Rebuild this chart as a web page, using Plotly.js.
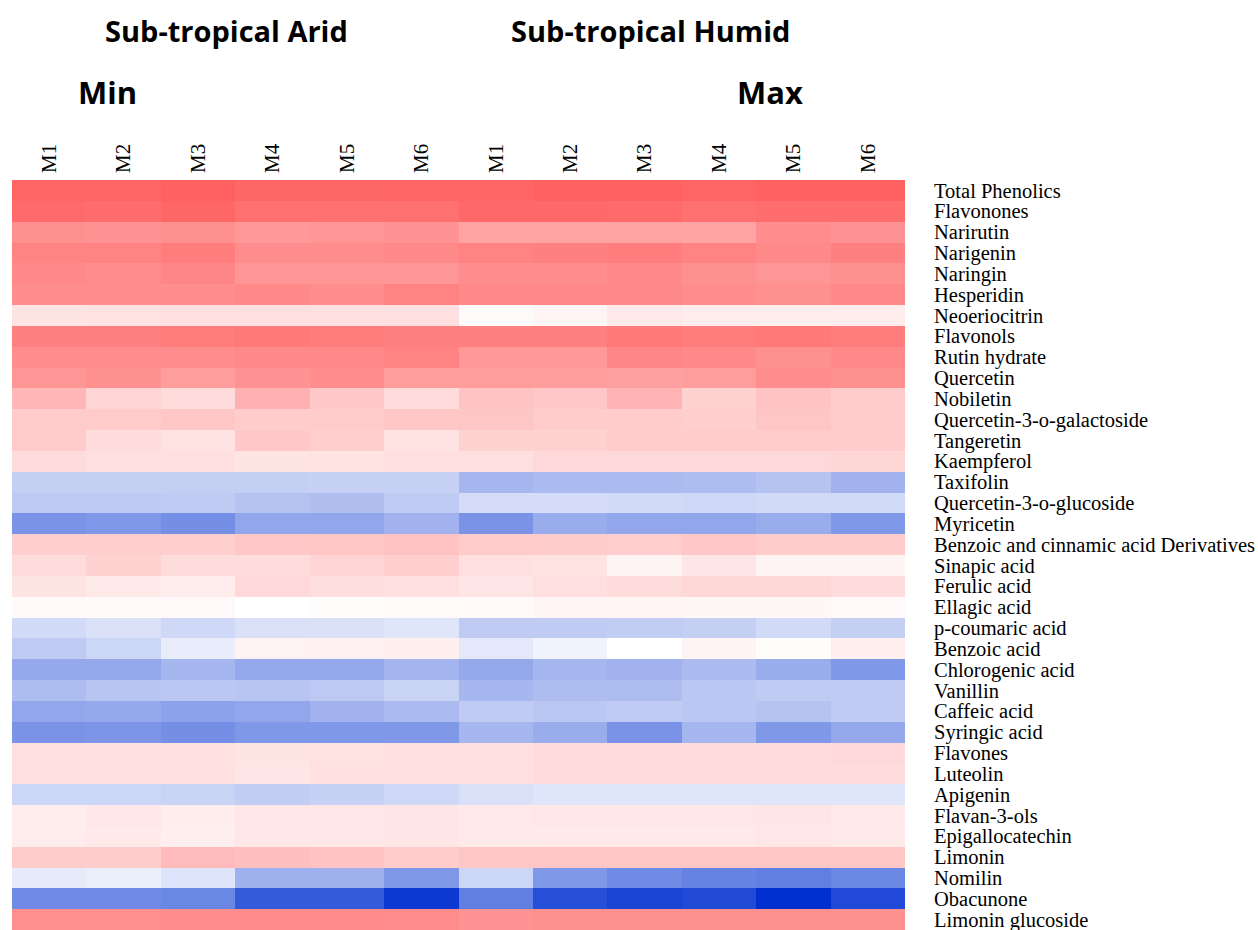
<!DOCTYPE html>
<html>
<head>
<meta charset="utf-8">
<script src="https://cdn.plot.ly/plotly-3.0.1.min.js"></script>
<style>html,body{margin:0;padding:0;background:#fff;}#chart{width:1258px;height:930px;}</style>
</head>
<body>
<div id="chart"></div>
<script>
const compounds = ["Total Phenolics","Flavonones","Narirutin","Narigenin","Naringin","Hesperidin","Neoeriocitrin","Flavonols","Rutin hydrate","Quercetin","Nobiletin","Quercetin-3-o-galactoside","Tangeretin","Kaempferol","Taxifolin","Quercetin-3-o-glucoside","Myricetin","Benzoic and cinnamic acid Derivatives","Sinapic acid","Ferulic acid","Ellagic acid","p-coumaric acid","Benzoic acid","Chlorogenic acid","Vanillin","Caffeic acid","Syringic acid","Flavones","Luteolin","Apigenin","Flavan-3-ols","Epigallocatechin","Limonin","Nomilin","Obacunone","Limonin glucoside"];
const samples = ["M1","M2","M3","M4","M5","M6","M1","M2","M3","M4","M5","M6"];
const groupTitles = ["Sub-tropical Arid","Sub-tropical Humid"];
const scaleLabels = ["Min","Max"];

// Sub-tropical Arid, columns M1..M6 (one row per compound)
const arid = [
[0.97,0.97,1.00,0.96,0.96,0.97],
[0.93,0.92,0.96,0.90,0.90,0.90],
[0.70,0.68,0.70,0.65,0.66,0.68],
[0.78,0.78,0.82,0.72,0.72,0.74],
[0.74,0.72,0.76,0.66,0.66,0.66],
[0.72,0.72,0.72,0.74,0.72,0.78],
[0.17,0.18,0.20,0.20,0.19,0.20],
[0.80,0.80,0.82,0.84,0.82,0.80],
[0.72,0.72,0.72,0.74,0.74,0.78],
[0.66,0.70,0.62,0.68,0.72,0.62],
[0.45,0.27,0.22,0.50,0.35,0.22],
[0.33,0.33,0.36,0.33,0.33,0.36],
[0.33,0.22,0.18,0.35,0.30,0.18],
[0.22,0.20,0.20,0.17,0.18,0.20],
[-0.23,-0.23,-0.23,-0.23,-0.22,-0.22],
[-0.26,-0.26,-0.25,-0.29,-0.31,-0.25],
[-0.52,-0.50,-0.54,-0.43,-0.43,-0.37],
[0.30,0.30,0.30,0.35,0.36,0.38],
[0.22,0.28,0.22,0.22,0.27,0.30],
[0.17,0.13,0.12,0.24,0.21,0.20],
[0.04,0.04,0.04,0.00,0.02,0.03],
[-0.18,-0.15,-0.19,-0.15,-0.14,-0.12],
[-0.25,-0.20,-0.09,0.08,0.09,0.10],
[-0.42,-0.42,-0.35,-0.42,-0.42,-0.36],
[-0.32,-0.28,-0.27,-0.28,-0.26,-0.21],
[-0.43,-0.42,-0.45,-0.43,-0.37,-0.33],
[-0.52,-0.51,-0.54,-0.50,-0.50,-0.50],
[0.20,0.19,0.19,0.17,0.18,0.20],
[0.20,0.20,0.19,0.16,0.19,0.20],
[-0.20,-0.20,-0.21,-0.24,-0.22,-0.19],
[0.12,0.15,0.12,0.15,0.15,0.16],
[0.12,0.14,0.11,0.15,0.15,0.16],
[0.32,0.32,0.43,0.40,0.38,0.33],
[-0.10,-0.08,-0.13,-0.38,-0.38,-0.50],
[-0.56,-0.56,-0.58,-0.79,-0.79,-0.95],
[0.71,0.71,0.72,0.73,0.73,0.72]
];
// Sub-tropical Humid, columns M1..M6
const humid = [
[0.97,1.00,1.00,0.97,1.00,1.00],
[0.95,0.95,0.93,0.90,0.92,0.92],
[0.58,0.58,0.58,0.57,0.72,0.68],
[0.78,0.80,0.82,0.78,0.74,0.80],
[0.72,0.72,0.74,0.70,0.66,0.70],
[0.74,0.74,0.74,0.72,0.70,0.74],
[0.03,0.06,0.14,0.12,0.12,0.12],
[0.80,0.80,0.84,0.82,0.84,0.82],
[0.64,0.64,0.76,0.74,0.70,0.74],
[0.62,0.62,0.60,0.62,0.72,0.70],
[0.38,0.35,0.48,0.28,0.38,0.33],
[0.36,0.33,0.33,0.30,0.36,0.33],
[0.28,0.28,0.33,0.33,0.33,0.33],
[0.20,0.24,0.24,0.24,0.24,0.26],
[-0.35,-0.33,-0.33,-0.32,-0.29,-0.37],
[-0.17,-0.17,-0.18,-0.19,-0.18,-0.18],
[-0.52,-0.40,-0.43,-0.43,-0.40,-0.50],
[0.33,0.32,0.30,0.35,0.32,0.32],
[0.20,0.18,0.07,0.16,0.07,0.07],
[0.16,0.20,0.22,0.25,0.25,0.22],
[0.04,0.06,0.06,0.05,0.05,0.04],
[-0.25,-0.25,-0.24,-0.23,-0.18,-0.23],
[-0.11,-0.06,0.00,0.07,0.02,0.11],
[-0.42,-0.35,-0.37,-0.33,-0.40,-0.50],
[-0.35,-0.32,-0.32,-0.27,-0.25,-0.25],
[-0.25,-0.27,-0.25,-0.27,-0.29,-0.25],
[-0.35,-0.40,-0.52,-0.35,-0.50,-0.42],
[0.20,0.22,0.22,0.22,0.22,0.24],
[0.20,0.22,0.22,0.22,0.22,0.22],
[-0.15,-0.12,-0.12,-0.12,-0.12,-0.12],
[0.14,0.15,0.15,0.15,0.16,0.14],
[0.13,0.14,0.14,0.14,0.15,0.13],
[0.36,0.36,0.36,0.36,0.36,0.36],
[-0.20,-0.50,-0.56,-0.60,-0.62,-0.58],
[-0.62,-0.85,-0.90,-0.87,-1.00,-0.88],
[0.68,0.70,0.70,0.70,0.70,0.70]
];

const z = arid.map((r, i) => r.concat(humid[i]));
const xIdx = samples.map((s, i) => i);

const trace = {
  type: 'heatmap',
  z: z,
  x: xIdx,
  y: compounds,
  zmin: -1, zmax: 1,
  colorscale: [[0, 'rgb(0,48,208)'], [0.5, 'rgb(255,255,255)'], [1, 'rgb(255,96,96)']],
  showscale: false,
  xgap: 0, ygap: 0,
  hoverinfo: 'none'
};

const serif = 'Liberation Serif, Times New Roman, serif';
const sans = 'Open Sans, Liberation Sans, Arial, sans-serif';

const layout = {
  width: 1258, height: 930,
  margin: {l: 12, r: 353, t: 180, b: 0, pad: 0},
  paper_bgcolor: '#fff', plot_bgcolor: '#fff',
  xaxis: {
    side: 'top', tickmode: 'array', tickvals: xIdx, ticktext: samples,
    tickangle: -90, ticks: '', showgrid: false, zeroline: false, showline: false,
    tickfont: {family: serif, size: 21, color: '#000'}, ticklabelstandoff: 6,
    range: [-0.5, 11.5], fixedrange: true
  },
  yaxis: {
    side: 'right', autorange: 'reversed', ticks: '', showgrid: false, zeroline: false, showline: false,
    tickmode: 'array', tickvals: compounds, ticktext: compounds,
    tickfont: {family: serif, size: 20.5, color: '#000'}, ticklabelstandoff: 28,
    type: 'category', fixedrange: true
  },
  annotations: [
    {text: groupTitles[0], x: 226, y: 30, s: 29},
    {text: groupTitles[1], x: 650, y: 30, s: 29},
    {text: scaleLabels[0], x: 107, y: 92, s: 31},
    {text: scaleLabels[1], x: 770, y: 92, s: 31}
  ].map(a => ({
    text: '<b>' + a.text + '</b>', showarrow: false,
    xref: 'paper', yref: 'paper',
    x: (a.x - 12) / (1258 - 12 - 353), y: 1 + (180 - a.y) / 750,
    xanchor: 'center', yanchor: 'middle',
    font: {family: sans, size: a.s, color: '#000'}
  }))
};

Plotly.newPlot('chart', [trace], layout, {displayModeBar: false, staticPlot: true});
</script>
</body>
</html>
